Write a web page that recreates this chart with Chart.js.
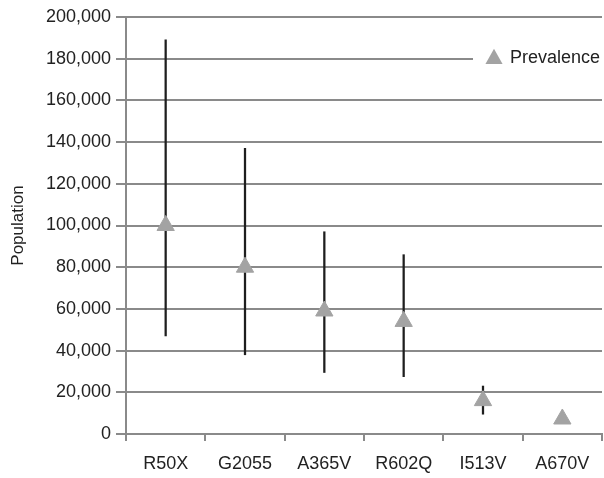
<!DOCTYPE html>
<html>
<head>
<meta charset="utf-8">
<script src="https://cdn.jsdelivr.net/npm/chart.js@4/dist/chart.umd.min.js"></script>
<style>
  html, body { margin: 0; padding: 0; background: #fff; }
  #wrap { width: 604px; height: 478px; }
</style>
</head>
<body>
<div id="wrap"><canvas id="c"></canvas></div>
<script>
// data
const categories = ['R50X', 'G2055', 'A365V', 'R602Q', 'I513V', 'A670V'];
const prevalence = [100000, 80000, 59000, 54000, 16000, 7200];
const lowerBound = [47000, 38000, 29500, 27500, 9500, null];
const upperBound = [189000, 137000, 97000, 86000, 23000, null];
const yTicks = [0, 20000, 40000, 60000, 80000, 100000, 120000, 140000, 160000, 180000, 200000];

const FONT = 'Liberation Sans, Arial, Helvetica, sans-serif';
const GRID = '#8a8a8a';
const TEXT = '#222';
const MARK = '#a3a3a3';

// legend sits inside the plot, on the 180,000 line, with a white box behind it
const legendInPlot = {
  id: 'legendInPlot',
  afterDraw(chart) {
    const { ctx, chartArea } = chart;
    const y = chart.scales.y.getPixelForValue(yTicks[9]);
    ctx.save();
    ctx.fillStyle = '#fff';
    ctx.fillRect(473, y - 4, chartArea.right - 473 + 2, 8);
    const cx = 494, r = 9.5;
    ctx.fillStyle = MARK;
    ctx.beginPath();
    ctx.moveTo(cx, y - r - 0.5);
    ctx.lineTo(cx + r * 0.9, y + r * 0.55);
    ctx.lineTo(cx - r * 0.9, y + r * 0.55);
    ctx.closePath();
    ctx.fill();
    ctx.fillStyle = TEXT;
    ctx.font = '18px ' + FONT;
    ctx.textBaseline = 'middle';
    ctx.textAlign = 'left';
    ctx.fillText('Prevalence', 510, y - 1);
    ctx.restore();
  }
};

new Chart(document.getElementById('c'), {
  data: {
    labels: categories,
    datasets: [
      {
        type: 'line',
        label: 'Prevalence',
        data: prevalence,
        showLine: false,
        pointStyle: 'triangle',
        pointRadius: 10,
        pointHoverRadius: 10,
        pointBackgroundColor: MARK,
        pointBorderColor: MARK,
        pointBorderWidth: 1,
        order: 0,
      },
      {
        type: 'bar',
        label: 'range',
        data: lowerBound.map((lo, i) => lo == null ? null : [lo, upperBound[i]]),
        backgroundColor: '#1e1e1e',
        borderWidth: 0,
        barThickness: 1.6,
        order: 1,
      },
    ],
  },
  options: {
    responsive: true,
    maintainAspectRatio: false,
    animation: false,
    layout: { autoPadding: false, padding: { top: 17, right: 2, left: 0, bottom: 0 } },
    plugins: { legend: { display: false }, tooltip: { enabled: false } },
    scales: {
      x: {
        offset: true,
        grid: { offset: true, drawOnChartArea: false, drawTicks: true, tickLength: 7, color: GRID, lineWidth: 2 },
        border: { color: GRID, width: 2 },
        ticks: { color: TEXT, font: { family: FONT, size: 18 }, padding: 12, maxRotation: 0 },
        afterFit: (s) => { s.height = 44; },
      },
      y: {
        min: 0,
        max: 200000,
        afterBuildTicks: (s) => { s.ticks = yTicks.map(v => ({ value: v })); },
        ticks: {
          color: TEXT,
          font: { family: FONT, size: 18 },
          padding: 5,
          callback: (v) => v.toLocaleString('en-US'),
        },
        grid: { color: GRID, lineWidth: 2, tickLength: 10 },
        border: { color: GRID, width: 2 },
        title: { display: true, text: 'Population', color: TEXT, font: { family: FONT, size: 17 }, padding: { top: 8, bottom: 0 } },
        afterFit: (s) => { s.width = 126; },
      },
    },
  },
  plugins: [legendInPlot],
});
</script>
</body>
</html>
